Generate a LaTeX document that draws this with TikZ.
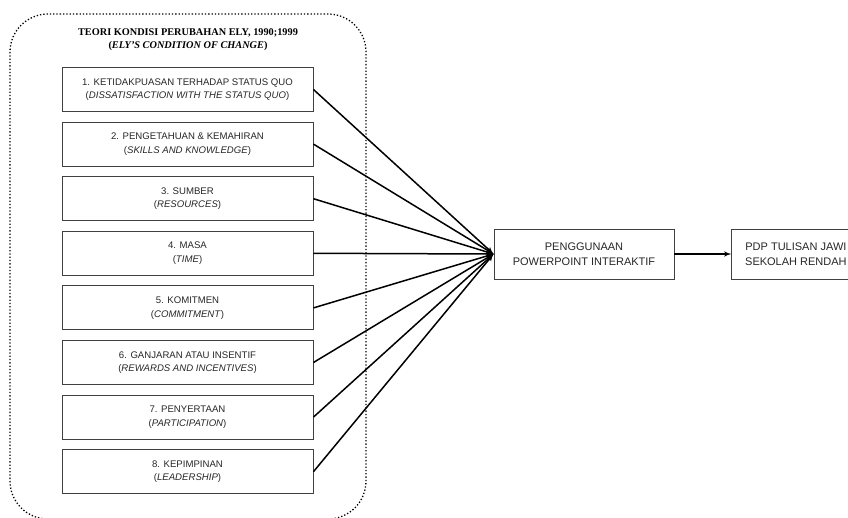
\documentclass[tikz,border=0pt]{standalone}
\usepackage{fontspec}
\setmainfont{Liberation Serif}
\setsansfont{Liberation Sans}
\usetikzlibrary{arrows,positioning}
\tikzset{
factor/.style={
  rectangle,
  draw=black!75,
  line width=0.9pt,
  text=black!85,
  font=\sffamily\fontsize{9.6}{13.5}\selectfont,
  align=center,
  minimum width=251pt,
  minimum height=44pt},
block/.style={
  rectangle,
  draw=black!75,
  line width=0.9pt,
  text=black!85,
  font=\sffamily\fontsize{11}{15}\selectfont,
  align=center,
  minimum width=180pt,
  minimum height=50pt},
line/.style={draw, line width=1.5pt, -latex'},
frame/.style={draw, dotted, line width=1.3pt, rounded corners=38pt}
}

\begin{document}
\begin{tikzpicture}[x=1pt,y=-1pt]
    \clip (0,0) rectangle (848,517);
    \path[frame] (10,14) rectangle (366,519);
    \node[font=\bfseries\fontsize{10.3}{13}\selectfont, align=center] (title) at (188,40)
      {TEORI KONDISI PERUBAHAN ELY, 1990;1999\\(\textit{ELY’S CONDITION OF CHANGE})};
    \node[factor] (f1) at (187.5,89.5) {1. KETIDAKPUASAN TERHADAP STATUS QUO\\(\textit{DISSATISFACTION WITH THE STATUS QUO})};
    \node[factor, below=9.7pt of f1] (f2) {2. PENGETAHUAN \& KEMAHIRAN\\(\textit{SKILLS AND KNOWLEDGE})};
    \node[factor, below=9.7pt of f2] (f3) {3. SUMBER\\(\textit{RESOURCES})};
    \node[factor, below=9.7pt of f3] (f4) {4. MASA\\(\textit{TIME})};
    \node[factor, below=9.7pt of f4] (f5) {5. KOMITMEN\\(\textit{COMMITMENT})};
    \node[factor, below=9.7pt of f5] (f6) {6. GANJARAN ATAU INSENTIF\\(\textit{REWARDS AND INCENTIVES})};
    \node[factor, below=9.7pt of f6] (f7) {7. PENYERTAAN\\(\textit{PARTICIPATION})};
    \node[factor, below=9.7pt of f7] (f8) {8. KEPIMPINAN\\(\textit{LEADERSHIP})};
    \node[block] (ppt) at (584,254) {PENGGUNAAN\\POWERPOINT INTERAKTIF};
    \node[block, minimum width=128pt, right=57pt of ppt] (jawi) {PDP TULISAN JAWI\\SEKOLAH RENDAH};
    \path [line] (f1.east) -- (ppt.west);
    \path [line] (f2.east) -- (ppt.west);
    \path [line] (f3.east) -- (ppt.west);
    \path [line] (f4.east) -- (ppt.west);
    \path [line] (f5.east) -- (ppt.west);
    \path [line] (f6.east) -- (ppt.west);
    \path [line] (f7.east) -- (ppt.west);
    \path [line] (f8.east) -- (ppt.west);
    \path [line] (ppt) -- (jawi);
\end{tikzpicture}
\end{document}
